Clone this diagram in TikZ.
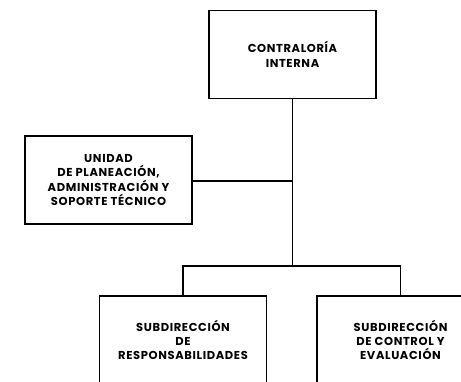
\documentclass[tikz,border=0pt]{standalone}
\usepackage{fontspec}
\setmainfont{Poppins}[BoldFont={Poppins Bold}, LetterSpace=5.5]
\begin{document}
\begin{tikzpicture}[x=1pt,y=-1pt,
  box/.style={draw, line width=1.9pt, minimum width=167pt, minimum height=88pt, inner sep=0pt,
    align=center, font=\bfseries\fontsize{11.5}{14.4}\selectfont},
  conn/.style={line width=1.9pt}]
\clip (0,0) rectangle (461,382);
\fill[white] (0,0) rectangle (461,382);
\node[box] (top) at (292.5,54.5) {CONTRALORÍA\\INTERNA};
\node[box] (left) at (108.5,180) {UNIDAD\\DE PLANEACIÓN,\\ADMINISTRACIÓN Y\\SOPORTE TÉCNICO};
\node[box] (bl) at (183,340) {SUBDIRECCIÓN\\DE\\RESPONSABILIDADES};
\node[box] (br) at (400.5,340) {SUBDIRECCIÓN\\DE CONTROL Y\\EVALUACIÓN};
\coordinate (j1) at (292.5,181);
\coordinate (j2) at (292.5,266);
\draw[conn] (top.south) -- (j2);
\draw[conn] (left.east |- j1) -- (j1);
\draw[conn] (bl.north) -- (bl.north |- j2) -- (br.north |- j2) -- (br.north);
\end{tikzpicture}
\end{document}
